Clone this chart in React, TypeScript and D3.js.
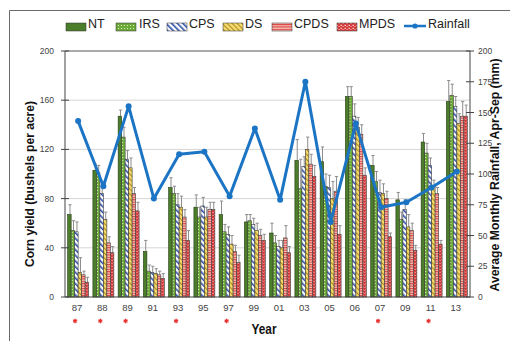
import React from "react";
import * as d3 from "d3";

const years = ["87", "88", "89", "91", "93", "95", "97", "99", "01", "03", "05", "06", "07", "09", "11", "13"];
const seriesNames = ["NT", "IRS", "CPS", "DS", "CPDS", "MPDS"];

const NT = [67, 103, 147, 37, 89, 73, 67, 61, 52, 111, 110, 163, 107, 79, 126, 159];
const IRS = [54, 101, 130, 21, 84, 65, 53, 62, 44, 88, 90, 163, 94, 63, 117, 164];
const CPS = [53, 84, 112, 20, 75, 74, 51, 59, 41, 106, 89, 147, 85, 71, 107, 155];
const DS = [20, 63, 105, 19, 73, 65, 43, 54, 40, 120, 80, 138, 84, 57, 90, 141];
const CPDS = [18, 44, 84, 18, 65, 71, 37, 50, 48, 108, 86, 132, 80, 54, 84, 147];
const MPDS = [12, 36, 70, 15, 46, 71, 28, 46, 36, 98, 51, 99, 49, 38, 43, 147];

const NT_err = [8, 5, 5, 9, 8, 10, 11, 6, 8, 17, 12, 8, 8, 6, 7, 17];
const IRS_err = [8, 6, 8, 5, 6, 8, 6, 5, 6, 24, 10, 8, 8, 6, 8, 9];
const CPS_err = [8, 6, 7, 5, 9, 7, 6, 5, 5, 8, 10, 10, 10, 8, 6, 8];
const DS_err = [12, 6, 8, 4, 9, 8, 7, 6, 6, 10, 14, 8, 8, 10, 5, 8];
const CPDS_err = [3, 5, 5, 3, 6, 6, 5, 5, 10, 8, 12, 8, 6, 6, 5, 12];
const MPDS_err = [4, 5, 7, 4, 8, 6, 6, 5, 5, 9, 7, 6, 3, 4, 3, 9];

const rainfall = [143, 90, 155, 80, 116, 118, 82, 137, 79, 175, 61, 141, 73, 77, 89, 102];
const starYears = ["87", "88", "89", "93", "97", "07", "11"];

const yieldTicks = [0, 40, 80, 120, 160, 200];
const rainTicks = [0, 25, 50, 75, 100, 125, 150, 175, 200];

const seriesValues = [NT, IRS, CPS, DS, CPDS, MPDS];
const seriesErrors = [NT_err, IRS_err, CPS_err, DS_err, CPDS_err, MPDS_err];
const seriesFill = ["#4b7d2b", "url(#pIRS)", "url(#pCPS)", "url(#pDS)", "url(#pCPDS)", "url(#pMPDS)"];

const FONT = "'Liberation Sans', Arial, sans-serif";

export default function App() {
  const x = d3.scaleBand<string>().domain(years).range([65, 470]).paddingInner(0.17).paddingOuter(0.105);
  const xs = d3.scaleBand<string>().domain(seriesNames).range([0, x.bandwidth()]);
  const y = d3.scaleLinear().domain([0, 200]).range([297, 51]);
  const yr = d3.scaleLinear().domain([0, 200]).range([297, 51]);
  const cx = (yy: string) => (x(yy) as number) + x.bandwidth() / 2;

  const line = d3
    .line<number>()
    .x((_, i) => cx(years[i]))
    .y((d) => yr(d));

  const star = d3.symbol(d3.symbolAsterisk, 14)() as string;

  const legendItems = [
    { name: "NT", sx: 66, tx: 88 },
    { name: "IRS", sx: 116, tx: 139 },
    { name: "CPS", sx: 167, tx: 189 },
    { name: "DS", sx: 223, tx: 245 },
    { name: "CPDS", sx: 272, tx: 294 },
    { name: "MPDS", sx: 337, tx: 359 },
  ];

  return (
    <svg width={510} height={341} style={{ position: "absolute", left: 0, top: 0 }} fontFamily={FONT}>
      <defs>
        <pattern id="pIRS" width="3" height="3" patternUnits="userSpaceOnUse">
          <rect width="3" height="3" fill="#6eaa3a" />
          <rect x="1" y="1" width="1" height="1" fill="#d9f0b8" />
        </pattern>
        <pattern id="pCPS" width="4" height="4" patternUnits="userSpaceOnUse" patternTransform="rotate(-45)">
          <rect width="4" height="4" fill="#ffffff" />
          <rect width="1.6" height="4" fill="#2d4fa6" />
        </pattern>
        <pattern id="pDS" width="3.5" height="3.5" patternUnits="userSpaceOnUse" patternTransform="rotate(-45)">
          <rect width="3.5" height="3.5" fill="#f6dc6a" />
          <rect width="1.1" height="3.5" fill="#a98a2c" />
        </pattern>
        <pattern id="pCPDS" width="3" height="2.4" patternUnits="userSpaceOnUse">
          <rect width="3" height="2.4" fill="#f7c3bb" />
          <rect width="3" height="1.1" fill="#d8403c" />
        </pattern>
        <pattern id="pMPDS" width="4" height="3" patternUnits="userSpaceOnUse">
          <rect width="4" height="3" fill="#d43838" />
          <rect x="0.5" y="0.8" width="1.4" height="1" fill="#ffffff" />
          <rect x="2.5" y="2.2" width="1.2" height="0.8" fill="#fbd0d0" />
        </pattern>
      </defs>

      <rect x={0} y={0} width={510} height={341} fill="#ffffff" />
      {/* outer frame */}
      <path d="M9.5,341 V10.5 H510" fill="none" stroke="#6a6a6a" strokeWidth={1} />

      {/* legend */}
      {legendItems.map((it, i) => (
        <g key={it.name}>
          <rect x={it.sx} y={23} width={20} height={8} fill={seriesFill[i]} stroke="#333" strokeWidth={0.5} />
          <text x={it.tx} y={27.5} fontSize={12.5} fill="#222">
            {it.name}
          </text>
        </g>
      ))}
      <g>
        <line x1={404} x2={426} y1={26} y2={26} stroke="#1b75c4" strokeWidth={2.5} />
        <circle cx={415} cy={26} r={2.6} fill="#1b75c4" />
        <text x={428} y={27.5} fontSize={12.5} fill="#222">
          Rainfall
        </text>
      </g>

      {/* gridlines */}
      {yieldTicks
        .filter((t) => t > 0 && t < 200)
        .map((t) => (
          <line key={"g" + t} x1={65} x2={470} y1={y(t)} y2={y(t)} stroke="#d6d6d6" strokeWidth={1} />
        ))}

      {/* bars */}
      {years.map((yy, gi) => (
        <g key={yy} transform={`translate(${x(yy)},0)`}>
          {seriesNames.map((s, si) => {
            const v = seriesValues[si][gi];
            const e = seriesErrors[si][gi];
            const bx = xs(s) as number;
            const bw = xs.bandwidth();
            const mid = bx + bw / 2;
            return (
              <g key={s}>
                <line x1={mid + 0.6} x2={mid + 0.6} y1={y(v)} y2={y(v + e)} stroke="#8c8c8c" strokeWidth={1} />
                <line x1={mid - 1} x2={mid + 2.2} y1={y(v + e)} y2={y(v + e)} stroke="#8c8c8c" strokeWidth={1} />
                <rect
                  x={bx}
                  y={y(v)}
                  width={bw}
                  height={y(0) - y(v)}
                  fill={seriesFill[si]}
                  stroke={si === 0 ? "#22390f" : "#3a3a3a"}
                  strokeWidth={0.6}
                />
              </g>
            );
          })}
        </g>
      ))}

      {/* plot border / axes */}
      <line x1={65} x2={470} y1={51} y2={51} stroke="#555" strokeWidth={1} />
      <line x1={65} x2={470} y1={297} y2={297} stroke="#444" strokeWidth={1.2} />
      <line x1={65} x2={65} y1={51} y2={297} stroke="#444" strokeWidth={1} />
      <line x1={470} x2={470} y1={51} y2={297} stroke="#444" strokeWidth={1} />

      {/* left ticks */}
      {yieldTicks.map((t) => (
        <g key={"l" + t}>
          <line x1={61} x2={69} y1={y(t)} y2={y(t)} stroke="#444" strokeWidth={1} />
          <text x={54} y={y(t) + 3} fontSize={8.5} fill="#444" textAnchor="end">
            {t}
          </text>
        </g>
      ))}
      {/* right ticks */}
      {rainTicks.map((t) => (
        <g key={"r" + t}>
          <line x1={466} x2={474} y1={yr(t)} y2={yr(t)} stroke="#444" strokeWidth={1} />
          <text x={478} y={yr(t) + 3} fontSize={8.5} fill="#444" textAnchor="start">
            {t}
          </text>
        </g>
      ))}

      {/* rainfall line */}
      <path d={line(rainfall) as string} fill="none" stroke="#1b75c4" strokeWidth={3} strokeLinejoin="round" />
      {rainfall.map((r, i) => (
        <circle key={"c" + i} cx={cx(years[i])} cy={yr(r)} r={3} fill="#1b75c4" />
      ))}

      {/* x labels */}
      {years.map((yy) => (
        <text key={"x" + yy} x={cx(yy) - 1} y={311} fontSize={9.5} fill="#444" textAnchor="middle">
          {yy}
        </text>
      ))}

      {/* stars */}
      {starYears.map((yy) => (
        <path key={"s" + yy} d={star} transform={`translate(${cx(yy) - 3},321)`} stroke="#e83030" strokeWidth={1.2} fill="none" />
      ))}

      {/* titles */}
      <text x={264} y={334} fontSize={14.5} fontWeight="bold" fill="#111" textAnchor="middle" textLength={25} lengthAdjust="spacingAndGlyphs">
        Year
      </text>
      <text
        transform="translate(34,184) rotate(-90)"
        fontSize={13}
        fontWeight="bold"
        fill="#111"
        textAnchor="middle"
        textLength={166}
        lengthAdjust="spacingAndGlyphs"
      >
        Corn yield (bushels per acre)
      </text>
      <text
        transform="translate(499,175) rotate(-90)"
        fontSize={13}
        fontWeight="bold"
        fill="#111"
        textAnchor="middle"
        textLength={233}
        lengthAdjust="spacingAndGlyphs"
      >
        Average Monthly Rainfall, Apr-Sep (mm)
      </text>
    </svg>
  );
}
